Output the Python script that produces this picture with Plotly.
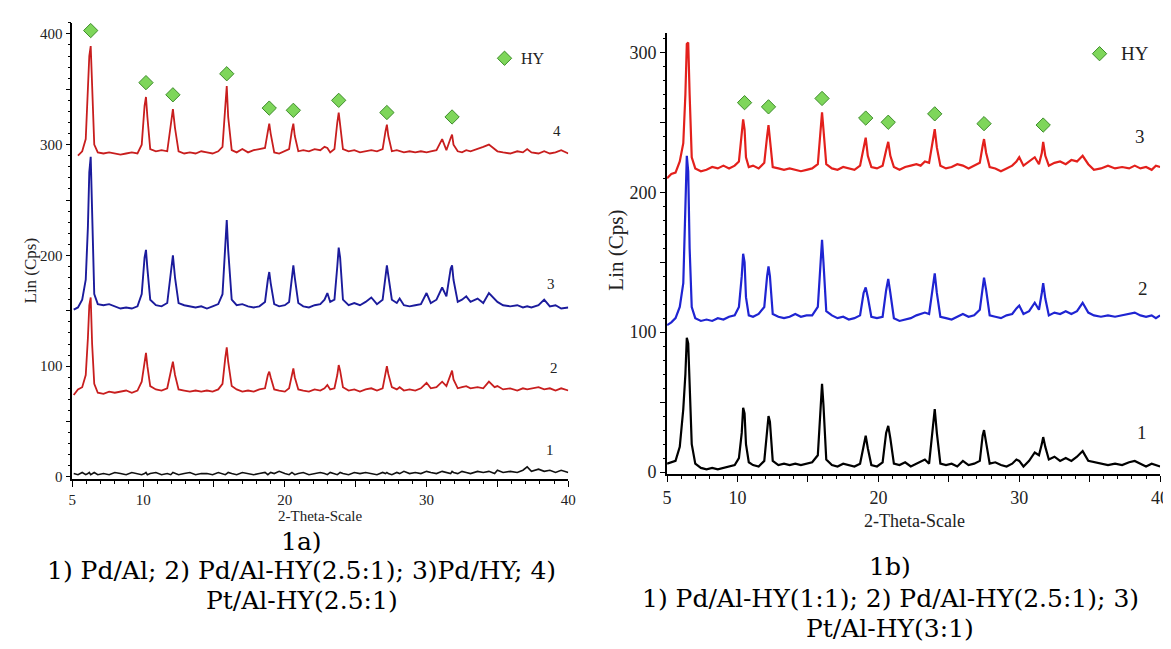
import plotly.graph_objects as go

# ---------------- Panel 1a data ----------------
theta_a = [5.1, 5.4, 5.7, 5.95, 6.1, 6.2, 6.3, 6.4, 6.55, 6.8,
           7.2, 7.6, 8.0, 8.4, 8.8, 9.2, 9.6, 9.9, 10.1, 10.2,
           10.3, 10.5, 10.9, 11.3, 11.7, 11.95, 12.1, 12.25, 12.5, 12.9,
           13.3, 13.7, 14.1, 14.5, 14.9, 15.3, 15.6, 15.8, 15.9, 16.0,
           16.25, 16.6, 17.0, 17.4, 17.8, 18.2, 18.6, 18.8, 18.9, 19.0,
           19.25, 19.6, 20.0, 20.3, 20.5, 20.6, 20.7, 20.95, 21.3, 21.7,
           22.1, 22.5, 22.8, 23.0, 23.2, 23.5, 23.7, 23.8, 23.9, 24.1,
           24.5, 24.9, 25.3, 25.7, 26.1, 26.5, 26.9, 27.1, 27.2, 27.3,
           27.55, 27.9, 28.1, 28.4, 28.8, 29.2, 29.6, 30.0, 30.3, 30.7,
           31.1, 31.4, 31.7, 31.8, 31.9, 32.2, 32.5, 32.8, 33.1, 33.6,
           34.0, 34.4, 34.8, 35.0, 35.4, 35.9, 36.4, 36.8, 37.1, 37.4,
           37.9, 38.3, 38.7, 39.1, 39.5, 40.0]

a1_pd_al = [3, 2, 4, 2, 3, 4, 2, 3, 4, 2,
            3, 2, 4, 3, 2, 4, 3, 2, 3, 4,
            2, 3, 4, 2, 3, 2, 4, 3, 2, 3,
            4, 2, 3, 3, 2, 4, 3, 2, 3, 4,
            3, 2, 4, 3, 2, 3, 4, 2, 3, 4,
            3, 5, 3, 2, 4, 3, 2, 3, 4, 2,
            3, 4, 3, 2, 4, 3, 2, 3, 4, 3,
            2, 4, 3, 4, 3, 2, 4, 3, 4, 3,
            2, 4, 3, 5, 3, 4, 3, 5, 4, 3,
            5, 4, 3, 5, 4, 3, 5, 4, 3, 5,
            4, 5, 3, 6, 4, 5, 4, 6, 9, 5,
            7, 5, 6, 4, 6, 4]

a2_pd_al_hy = [74, 79, 81, 92, 125, 155, 162, 120, 84, 76,
               75, 77, 76, 77, 78, 76, 78, 86, 105, 112,
               100, 82, 79, 78, 80, 95, 104, 92, 79, 78,
               77, 78, 77, 78, 77, 79, 84, 108, 117, 104,
               82, 79, 77, 78, 77, 79, 80, 92, 95, 90,
               79, 78, 77, 80, 93, 98, 90, 79, 78, 77,
               79, 78, 80, 83, 79, 80, 92, 101, 96, 81,
               78, 79, 77, 79, 80, 78, 80, 92, 100, 93,
               81, 79, 81, 78, 79, 78, 80, 85, 80, 81,
               86, 82, 93, 96, 88, 80, 81, 82, 80, 81,
               80, 86, 81, 82, 79, 80, 78, 80, 79, 80,
               81, 79, 80, 78, 80, 78]

a3_pd_hy = [151, 153, 160, 178, 225, 275, 289, 230, 165, 156,
            155, 156, 154, 152, 153, 152, 154, 165, 198, 205,
            188, 160, 155, 154, 157, 185, 200, 180, 157, 155,
            154, 153, 154, 152, 154, 156, 165, 215, 232, 205,
            160, 155, 156, 154, 153, 154, 158, 178, 185, 175,
            156, 154, 155, 158, 182, 191, 180, 157, 154, 153,
            155, 156, 160, 166, 158, 160, 190, 207, 198, 160,
            155, 157, 155, 158, 162, 156, 160, 180, 191, 182,
            160, 157, 161, 155, 154, 155, 156, 166, 157, 160,
            171, 163, 188, 191, 178, 158, 160, 163, 158, 161,
            157, 166, 160, 158, 155, 154, 155, 153, 154, 153,
            155, 160, 154, 155, 152, 153]

a4_pt_al_hy = [None, 290, 294, 305, 345, 380, 389, 350, 300, 293,
               292, 293, 292, 291, 292, 293, 292, 300, 335, 343,
               325, 296, 294, 295, 294, 320, 332, 315, 294, 292,
               293, 292, 294, 293, 292, 294, 298, 335, 353, 325,
               295, 293, 296, 293, 295, 296, 297, 312, 319, 310,
               293, 292, 294, 296, 313, 319, 308, 294, 295, 294,
               296, 295, 298, 297, 293, 296, 320, 329, 318, 296,
               294, 295, 293, 294, 295, 294, 296, 312, 318, 308,
               294, 295, 294, 293, 294, 293, 294, 293, 294, 295,
               305, 295, 306, 309, 300, 294, 293, 295, 294, 296,
               298, 300, 296, 294, 293, 292, 294, 293, 296, 293,
               292, 294, 292, 293, 295, 292]

hy_a_x = [6.3, 10.2, 12.1, 15.9, 18.9, 20.6, 23.8, 27.2, 31.8]
hy_a_y = [403, 356, 345, 364, 333, 331, 340, 329, 325]

# ---------------- Panel 1b data ----------------
theta_b = [5.0, 5.3, 5.6, 5.9, 6.15, 6.3, 6.4, 6.5, 6.6, 6.75,
           7.0, 7.4, 7.8, 8.2, 8.6, 9.0, 9.4, 9.8, 10.1, 10.3,
           10.4, 10.5, 10.6, 10.8, 11.1, 11.5, 11.9, 12.1, 12.2, 12.3,
           12.5, 12.9, 13.3, 13.7, 14.1, 14.5, 14.9, 15.3, 15.7, 15.9,
           16.0, 16.1, 16.3, 16.7, 17.1, 17.5, 17.9, 18.3, 18.7, 18.95,
           19.1, 19.25, 19.5, 19.9, 20.3, 20.55, 20.7, 20.85, 21.1, 21.5,
           21.9, 22.3, 22.7, 23.0, 23.3, 23.6, 23.85, 24.0, 24.15, 24.4,
           24.8, 25.2, 25.6, 26.0, 26.4, 26.8, 27.2, 27.4, 27.5, 27.65,
           27.9, 28.3, 28.7, 29.1, 29.5, 29.8, 30.0, 30.3, 30.7, 31.1,
           31.4, 31.6, 31.7, 31.85, 32.1, 32.5, 32.9, 33.3, 33.7, 34.1,
           34.5, 34.9, 35.3, 35.8, 36.3, 36.8, 37.3, 37.8, 38.2, 38.6,
           39.0, 39.4, 39.7, 40.0]

b1_pd_al_hy_1_1 = [6, 7, 8, 18, 45, 70, 96, 92, 60, 20,
                   6, 3, 2, 3, 2, 3, 4, 5, 10, 28,
                   46, 42, 20, 7, 5, 4, 8, 32, 40, 36,
                   8, 5, 6, 5, 6, 5, 6, 7, 12, 45,
                   63, 48, 9, 5, 4, 6, 5, 4, 6, 18,
                   26, 17, 5, 4, 7, 28, 33, 24, 6, 5,
                   7, 4, 6, 7, 9, 6, 30, 45, 28, 6,
                   5, 6, 4, 8, 5, 6, 8, 26, 30, 20,
                   6, 7, 5, 4, 6, 9, 8, 4, 8, 14,
                   12, 20, 25, 18, 9, 11, 8, 10, 8, 11,
                   15, 8, 7, 6, 5, 6, 5, 7, 8, 6,
                   4, 6, 5, 4]

b2_pd_al_hy_2_5 = [105, 107, 110, 118, 135, 180, 226, 215, 160, 118,
                   110, 108, 109, 108, 110, 109, 111, 112, 118, 140,
                   156, 150, 125, 112, 111, 113, 118, 140, 147, 140,
                   113, 111, 110, 111, 113, 111, 112, 112, 118, 150,
                   166, 150, 115, 112, 110, 111, 109, 110, 112, 128,
                   132, 125, 111, 110, 111, 130, 138, 128, 110, 108,
                   109, 110, 112, 113, 114, 113, 130, 142, 128, 111,
                   110, 109, 111, 113, 111, 112, 116, 132, 139, 130,
                   112, 111, 110, 112, 113, 117, 119, 113, 115, 121,
                   116, 128, 135, 124, 112, 114, 113, 115, 113, 115,
                   121, 114, 112, 111, 112, 111, 112, 113, 114, 112,
                   111, 112, 110, 112]

b3_pt_al_hy_3_1 = [210, 213, 214, 222, 235, 270, 306, 307, 270, 225,
                   217, 215, 216, 218, 217, 219, 217, 219, 222, 240,
                   252, 245, 225, 218, 219, 217, 221, 240, 248, 238,
                   218, 217, 216, 217, 216, 215, 216, 217, 220, 248,
                   257, 245, 220, 217, 216, 218, 217, 216, 219, 230,
                   239, 226, 218, 217, 219, 230, 236, 226, 218, 216,
                   218, 219, 220, 219, 222, 221, 236, 245, 232, 219,
                   217, 218, 220, 219, 217, 219, 221, 233, 238, 228,
                   218, 217, 215, 217, 219, 222, 225, 219, 222, 225,
                   220, 228, 236, 226, 219, 221, 222, 220, 223, 222,
                   226, 220, 216, 217, 219, 217, 218, 217, 219, 217,
                   218, 216, 219, 218]

hy_b_x = [6.5, 10.5, 12.2, 16.0, 19.1, 20.7, 24.0, 27.5, 31.7]
hy_b_y = [315, 264, 261, 267, 253, 250, 256, 249, 248]

# curve number labels (x, y in data units)
labels_a = ["4", "3", "2", "1"]
labels_a_x = [39.2, 38.8, 39.0, 38.7]
labels_a_y = [312, 174, 98, 24]
labels_b = ["3", "2", "1"]
labels_b_x = [38.6, 38.8, 38.7]
labels_b_y = [240, 131, 28]

legend_a = (35.5, 378)
legend_b = (35.7, 299)

x_ticks = [5, 10, 15, 20, 25, 30, 35, 40]
x_ticktext = ["5", "10", "", "20", "", "30", "", "40"]
ya_ticks = [0, 50, 100, 150, 200, 250, 300, 350, 400]
ya_ticktext = ["0", "", "100", "", "200", "", "300", "", "400"]
yb_ticks = [0, 50, 100, 150, 200, 250, 300]
yb_ticktext = ["0", "", "100", "", "200", "", "300"]

# ---------------- figure ----------------
W, H = 1171, 649
SERIF = "Liberation Serif"
CAPFONT = "DejaVu Serif"
HY_FILL = "#7ed65a"
HY_EDGE = "#3d8c2a"

fig = go.Figure()

def line(x, y, color, width, xa, ya):
    fig.add_trace(go.Scatter(x=x, y=y, mode="lines", xaxis=xa, yaxis=ya,
                             line=dict(color=color, width=width),
                             connectgaps=False, hoverinfo="skip"))

line(theta_a, a1_pd_al, "#111111", 1.6, "x", "y")
line(theta_a, a2_pd_al_hy, "#c81e1e", 1.8, "x", "y")
line(theta_a, a3_pd_hy, "#1b1b9c", 1.9, "x", "y")
line(theta_a, a4_pt_al_hy, "#c81e1e", 1.8, "x", "y")

line(theta_b, b1_pd_al_hy_1_1, "#000000", 2.2, "x2", "y2")
line(theta_b, b2_pd_al_hy_2_5, "#1f24d2", 2.2, "x2", "y2")
line(theta_b, b3_pt_al_hy_3_1, "#e3201c", 2.2, "x2", "y2")

for xs, ys, xa, ya in [(hy_a_x + [legend_a[0]], hy_a_y + [legend_a[1]], "x", "y"),
                       (hy_b_x + [legend_b[0]], hy_b_y + [legend_b[1]], "x2", "y2")]:
    fig.add_trace(go.Scatter(x=xs, y=ys, mode="markers", xaxis=xa, yaxis=ya,
                             marker=dict(symbol="diamond", size=11, color=HY_FILL,
                                         line=dict(color=HY_EDGE, width=1)),
                             cliponaxis=False, hoverinfo="skip"))

ann = []
for t, x, y in zip(labels_a, labels_a_x, labels_a_y):
    ann.append(dict(text=t, x=x, y=y, xref="x", yref="y", showarrow=False,
                    xanchor="center", font=dict(family=SERIF, size=15, color="#222")))
for t, x, y in zip(labels_b, labels_b_x, labels_b_y):
    ann.append(dict(text=t, x=x, y=y, xref="x2", yref="y2", showarrow=False,
                    xanchor="center", font=dict(family=SERIF, size=19, color="#222")))
ann.append(dict(text="HY", x=36.5, y=legend_a[1], xref="x", yref="y", showarrow=False,
                xanchor="left", font=dict(family=SERIF, size=16, color="#222")))
ann.append(dict(text="HY", x=37.1, y=legend_b[1], xref="x2", yref="y2", showarrow=False,
                xanchor="left", font=dict(family=SERIF, size=19, color="#222")))

def py(p):
    return 1 - p / H

# axis titles
ann.append(dict(text="2-Theta-Scale", x=311 / W, y=py(514), xref="paper", yref="paper",
                xanchor="center", yanchor="middle",
                showarrow=False, font=dict(family=SERIF, size=15, color="#222")))
ann.append(dict(text="2-Theta-Scale", x=912 / W, y=py(519), xref="paper", yref="paper",
                xanchor="center", yanchor="middle",
                showarrow=False, font=dict(family=SERIF, size=18, color="#222")))
ann.append(dict(text="Lin (Cps)", x=18 / W, y=py(266), xref="paper", yref="paper",
                xanchor="center", yanchor="middle",
                showarrow=False, textangle=-90, font=dict(family=SERIF, size=17, color="#222")))
ann.append(dict(text="Lin (Cps)", x=610 / W, y=py(245), xref="paper", yref="paper",
                xanchor="center", yanchor="middle",
                showarrow=False, textangle=-90, font=dict(family=SERIF, size=21, color="#222")))

# captions
cap = dict(family=CAPFONT, size=25, color="#000")
for t, cx, cy in [("1a)", 292, 540),
                  ("1) Pd/Al; 2) Pd/Al-HY(2.5:1); 3)Pd/HY; 4)", 292, 570),
                  ("Pt/Al-HY(2.5:1)", 292, 600),
                  ("1b)", 888, 565),
                  ("1) Pd/Al-HY(1:1); 2) Pd/Al-HY(2.5:1); 3)", 888, 598),
                  ("Pt/Al-HY(3:1)", 888, 628)]:
    ann.append(dict(text=t, x=cx / W, y=py(cy), xref="paper", yref="paper",
                    xanchor="center", yanchor="middle",
                    showarrow=False, font=cap))

def xaxis(domain, fs, lw):
    return dict(domain=domain, range=[5, 40], showline=True, linecolor="black",
                linewidth=lw, ticks="outside", tickvals=x_ticks, ticktext=x_ticktext,
                ticklen=6, tickwidth=1.4, tickcolor="black",
                minor=dict(ticks="outside", dtick=1, tick0=5, ticklen=3,
                           tickwidth=1, tickcolor="black", showgrid=False),
                showgrid=False, zeroline=False,
                tickfont=dict(family=SERIF, size=fs, color="#222"))

def yaxis(domain, rng, tv, tt, fs, lw, anchor):
    return dict(domain=domain, range=rng, showline=True, linecolor="black",
                linewidth=lw, ticks="outside", tickvals=tv, ticktext=tt,
                ticklen=5, tickwidth=1.4, tickcolor="black", anchor=anchor,
                minor=dict(ticks="outside", dtick=10, tick0=0, ticklen=2.5,
                           tickwidth=1, tickcolor="black", showgrid=False),
                showgrid=False, zeroline=False,
                tickfont=dict(family=SERIF, size=fs, color="#222"))

fig.update_layout(
    width=W, height=H, margin=dict(l=0, r=0, t=0, b=0),
    paper_bgcolor="white", plot_bgcolor="white", showlegend=False,
    font=dict(family=SERIF),
    xaxis=dict(xaxis(domain=[60 / W, 562 / W], fs=15, lw=1.5), anchor="y"),
    yaxis=yaxis([1 - 477 / H, 1 - 15 / H], [-2, 410], ya_ticks, ya_ticktext, 15, 1.5, "x"),
    xaxis2=dict(xaxis(domain=[662 / W, 1161 / W], fs=18, lw=2), anchor="y2"),
    yaxis2=yaxis([1 - 472 / H, 1 - 25 / H], [-1.5, 314], yb_ticks, yb_ticktext, 18, 2, "x2"),
    annotations=ann,
)

fig.write_html("out.html")
